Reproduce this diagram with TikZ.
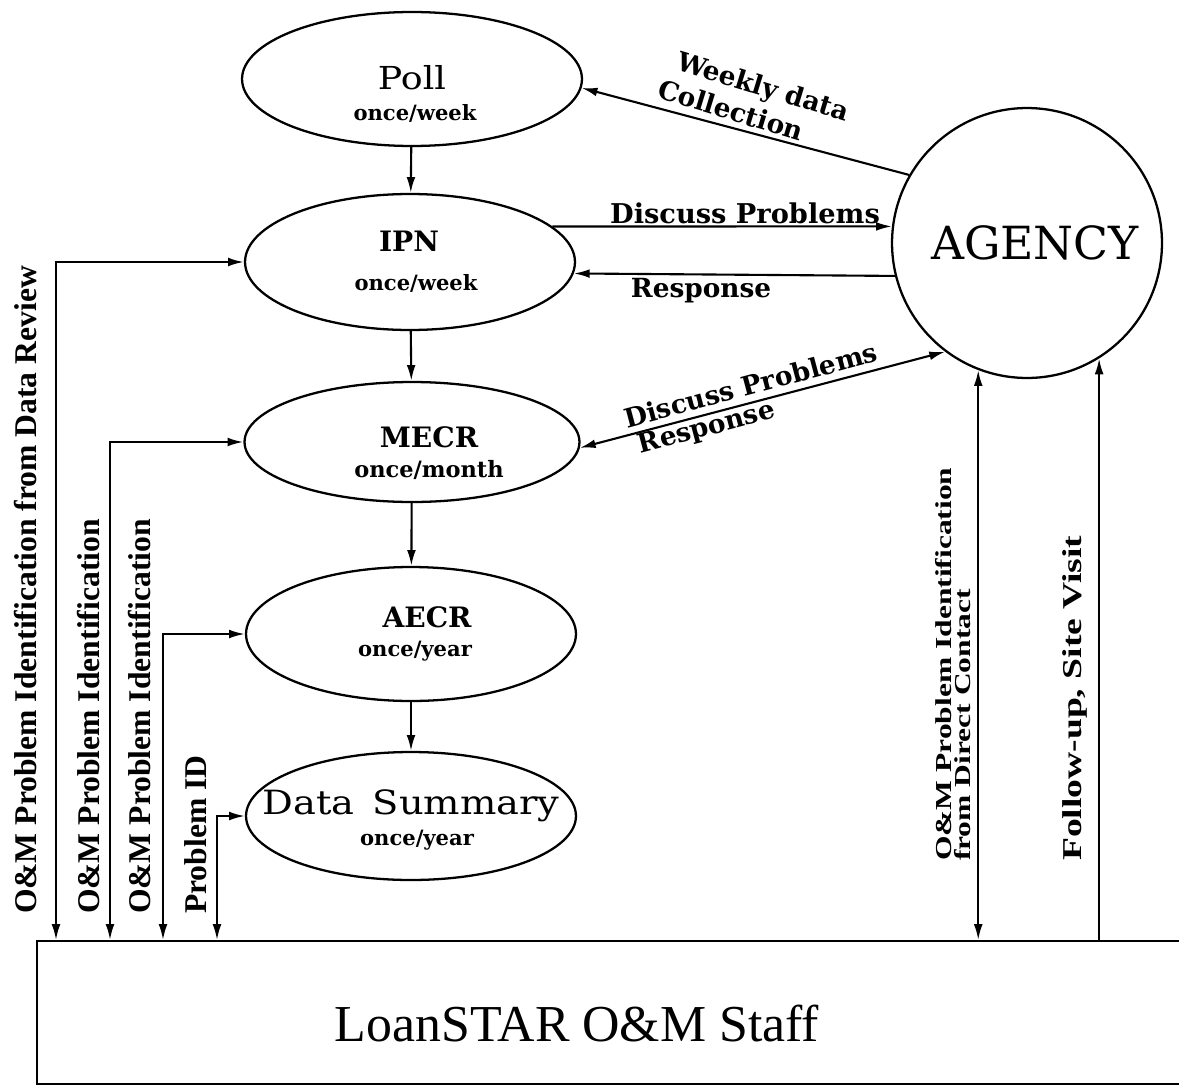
\documentclass[tikz,border=0pt]{standalone}
\usepackage{fontspec}
\usetikzlibrary{shapes.geometric,arrows.meta,calc}
\newfontfamily\wideserif{DejaVu Serif}
\newfontfamily\wideserifx{DejaVu Serif}[FakeStretch=1.15]
\newfontfamily\narrowserif{Liberation Serif}
\newfontfamily\stretchserif{Liberation Serif}[FakeStretch=1.38]
\begin{document}
\begin{tikzpicture}[x=0.02cm,y=-0.02cm,
  line width=1.2pt,
  tip/.style={-{Latex[length=9pt,width=5pt]}},
  bothtip/.style={{Latex[length=9pt,width=5pt]}-{Latex[length=9pt,width=5pt]}},
  proc/.style={ellipse,draw,line width=1.3pt,inner sep=0pt},
  ttl/.style={font=\wideserifx\fontsize{18}{20}\selectfont, inner sep=0pt},
  ttlb/.style={font=\wideserif\bfseries\fontsize{16}{19}\selectfont, inner sep=0pt},
  subl/.style={font=\wideserif\bfseries\fontsize{12}{14}\selectfont, inner sep=0pt},
  lbl/.style={font=\wideserif\bfseries\fontsize{15}{17}\selectfont, inner sep=0pt},
  vlbl/.style={font=\narrowserif\bfseries\fontsize{18}{20}\selectfont, inner sep=0pt, rotate=90, anchor=west},
  vlblr/.style={font=\stretchserif\bfseries\fontsize{13}{10.5}\selectfont, inner sep=0pt, rotate=90, anchor=west},
]
\useasboundingbox (0,0) rectangle (1179,1085);
\clip (0,0) rectangle (1179,1085);

% processes
\node[proc, minimum width=6.8cm, minimum height=2.68cm] (poll) at (412,79) {};
\node[proc, minimum width=6.6cm, minimum height=2.72cm] (ipn) at (410,262) {};
\node[proc, minimum width=6.7cm, minimum height=2.4cm] (mecr) at (412,442) {};
\node[proc, minimum width=6.6cm, minimum height=2.68cm] (aecr) at (411,634) {};
\node[proc, minimum width=6.6cm, minimum height=2.56cm] (ds) at (411,816) {};
\node[circle, draw, line width=1.3pt, minimum size=5.4cm, inner sep=0pt] (agency) at (1027,243) {};
\node[draw, rectangle, minimum width=23.4cm, minimum height=2.86cm, anchor=north west, inner sep=0pt] (staff) at (36,940) {};

% texts in shapes
\node[ttl] (pollt) at (412,78) {Poll};
\node[subl] (polls) at (415,113) {once/week};
\node[ttlb] (ipnt) at (409,241) {IPN};
\node[subl] (ipns) at (416,283) {once/week};
\node[ttlb] (mecrt) at (429,437) {MECR};
\node[subl, font=\wideserif\bfseries\fontsize{12.8}{14}\selectfont] (mecrs) at (429,470) {once/month};
\node[ttlb] (aecrt) at (427,617) {AECR};
\node[subl] (aecrs) at (415,651) {once/year};
\node[ttl, font=\wideserifx\fontsize{19}{21}\selectfont] (dst) at (411,806) {Data\hspace{0.55em}Summary};
\node[subl] (dss) at (417,840) {once/year};
\node[font=\wideserif\fontsize{26}{28}\selectfont, inner sep=0pt] (agencyt) at (1035,243) {AGENCY};
\node[font=\narrowserif\fontsize{29.5}{32}\selectfont, inner sep=0pt] (stafft) at (577,1023) {LoanSTAR O\&M Staff};

% vertical chain
\draw[tip] (poll) -- (ipn);
\draw[tip] (ipn) -- (mecr);
\draw[tip] (mecr) -- (aecr);
\draw[tip] (aecr) -- (ds);

% agency links
\draw[tip] (agency.150) -- (poll.-3);
\draw[tip] (ipn.14) -- (agency.173);
\draw[tip] (agency.194) -- (ipn.-4.6);
\draw[bothtip] (mecr.-2) -- (agency.233);
\draw[bothtip] (agency.249.5) -- (agency.249.5 |- staff.north);
\draw[tip] (staff.north -| agency.-58.5) -- (agency.-58.5);

% left feedback links
\coordinate (j1) at (56,262);
\coordinate (j2) at (110,442);
\coordinate (j3) at (163,634);
\coordinate (j4) at (217,816);
\draw[bothtip] (staff.north -| j1) -- (j1) -- (ipn.west);
\draw[bothtip] (staff.north -| j2) -- (j2) -- (mecr.west);
\draw[bothtip] (staff.north -| j3) -- (j3) -- (aecr.west);
\draw[bothtip] (staff.north -| j4) -- (j4) -- (ds.west);

% labels
\node[lbl, rotate=-17, align=left, font=\wideserif\bfseries\fontsize{15}{18.5}\selectfont] (wk) at (754,100) {\hspace*{5.5pt}Weekly data\\Collection};
\node[lbl, font=\wideserif\bfseries\fontsize{15.5}{17}\selectfont] (dp1) at (745,213) {Discuss Problems};
\node[lbl] (rs1) at (701,291) {Response};
\node[lbl, rotate=15, align=left, font=\wideserif\bfseries\fontsize{15}{16}\selectfont] (dp2) at (755,401) {Discuss Problems\\\hspace*{3.8pt}Response};

\node[vlbl] (l1) at (26,915) {O\&M Problem Identification from Data Review};
\node[vlbl] (l2) at (89,915) {O\&M Problem Identification};
\node[vlbl] (l3) at (140,915) {O\&M Problem Identification};
\node[vlbl] (l4) at (196,915) {Problem ID};
\node[vlblr, align=left] (r1) at (953,862) {O\&M Problem Identification\\from Direct Contact};
\node[vlblr, font=\stretchserif\bfseries\fontsize{15.5}{17}\selectfont] (r2) at (1075,862) {Follow-up, Site Visit};
\end{tikzpicture}
\end{document}
